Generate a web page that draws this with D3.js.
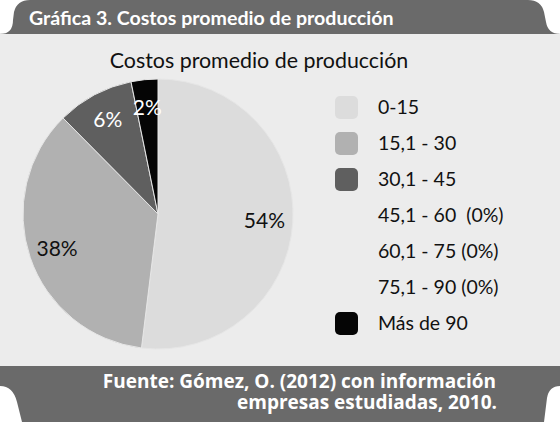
<!DOCTYPE html>
<html>
<head>
<meta charset="utf-8">
<script src="https://cdn.jsdelivr.net/npm/d3@7"></script>
<style>
  html, body { margin: 0; padding: 0; background: #ffffff; }
  svg { display: block; }
</style>
</head>
<body>
<div id="chart"></div>
<script>
// Pie of average production costs, legend on the right
var categories = ['0-15', '15,1 - 30', '30,1 - 45', '45,1 - 60  (0%)', '60,1 - 75 (0%)', '75,1 - 90 (0%)', 'Más de 90'];
var shares = [51.9, 35.6, 9.2, 0, 0, 0, 3.2];
var sliceLabels = ['54%', '38%', '6%', '', '', '', '2%'];
var sliceColors = ['#dcdcdc', '#b1b1b1', '#5f5f5f', '#888888', '#888888', '#888888', '#050505'];
var labelColors = ['#111111', '#111111', '#ffffff', '#ffffff', '#ffffff', '#ffffff', '#ffffff'];

var W = 560, H = 422;
var svg = d3.select('#chart').append('svg')
  .attr('width', W).attr('height', H)
  .style('font-family', 'Lato, "Open Sans", sans-serif');

// light panel
svg.append('rect').attr('x', 0).attr('y', 33).attr('width', W).attr('height', 334).attr('fill', '#ececec');

// top tab banner
svg.append('path')
  .attr('d', 'M0,34 Q13,34 13,20 L14,12 Q17,0 30,0 L528,0 Q541,0 544,12 L546,22 Q548,34 560,34 Z')
  .attr('fill', '#6a6a6a');
svg.append('text')
  .attr('x', 29).attr('y', 25)
  .style('font-size', '19.6px').style('font-weight', '700').style('fill', '#ffffff')
  .text('Gráfica 3. Costos promedio de producción');

// bottom banner
svg.append('path')
  .attr('d', 'M0,366 L560,366 L560,386 Q549,386 547,398 L544,422 L22,422 L17,402 Q13,386 0,386 Z')
  .attr('fill', '#6a6a6a');
var foot = svg.append('text')
  .attr('text-anchor', 'end')
  .style('font-family', '"Open Sans", sans-serif')
  .style('font-size', '19px').style('font-weight', '700').attr('fill', '#ffffff');
foot.append('tspan').attr('x', 496).attr('y', 388).text('Fuente: Gómez, O. (2012) con información');
foot.append('tspan').attr('x', 497).attr('y', 409).text('empresas estudiadas, 2010.');

// chart title
svg.append('text')
  .attr('x', 259).attr('y', 68).attr('text-anchor', 'middle')
  .style('font-size', '21.4px').attr('fill', '#111111')
  .text('Costos promedio de producción');

// pie
var cx = 158, cy = 214, r = 135;
var pie = d3.pie().sort(null).value(function(d){ return d; });
var arcs = pie(shares).filter(function(d){ return d.value > 0; });
var arc = d3.arc().innerRadius(0).outerRadius(r);
var labelArc = d3.arc().innerRadius(r * 0.79).outerRadius(r * 0.79);

var g = svg.append('g').attr('transform', 'translate(' + cx + ',' + cy + ')');
g.selectAll('.slice')
  .data(arcs)
  .enter().append('path')
  .attr('class', 'slice')
  .attr('d', arc)
  .attr('fill', function(d){ return sliceColors[d.index]; })
  .attr('stroke', '#e6e6e6')
  .attr('stroke-width', 1);

g.selectAll('.lbl')
  .data(arcs)
  .enter().append('text')
  .attr('class', 'lbl')
  .attr('transform', function(d){ return 'translate(' + labelArc.centroid(d) + ')'; })
  .attr('text-anchor', 'middle')
  .attr('dy', '0.35em')
  .style('font-size', '21px')
  .attr('fill', function(d){ return labelColors[d.index]; })
  .text(function(d){ return sliceLabels[d.index]; });

// legend
var ly = d3.scalePoint().domain(categories).range([107, 323]);
var leg = svg.append('g');
leg.selectAll('rect')
  .data(categories.filter(function(c, i){ return shares[i] > 0; }))
  .enter().append('rect')
  .attr('x', 335).attr('y', function(d){ return ly(d) - 11; })
  .attr('width', 23).attr('height', 23).attr('rx', 5)
  .attr('fill', function(d){ return sliceColors[categories.indexOf(d)]; });
leg.selectAll('text')
  .data(categories)
  .enter().append('text')
  .attr('x', 378).attr('y', function(d){ return ly(d); })
  .attr('dy', '0.35em')
  .style('font-size', '19.5px').attr('fill', '#111111')
  .style('white-space', 'pre')
  .text(function(d){ return d; });
</script>
</body>
</html>
